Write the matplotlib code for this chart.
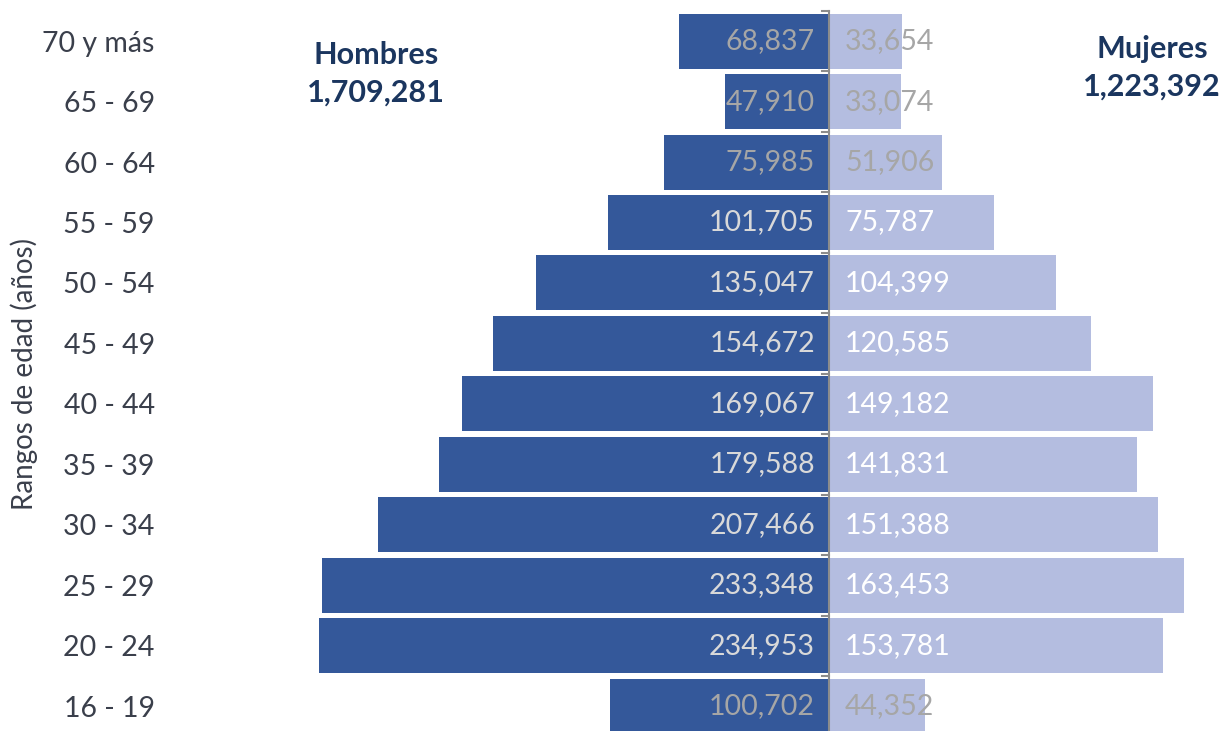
import numpy as np
import matplotlib.pyplot as plt

# age groups, bottom to top
ages = ["16 - 19", "20 - 24", "25 - 29", "30 - 34", "35 - 39", "40 - 44",
        "45 - 49", "50 - 54", "55 - 59", "60 - 64", "65 - 69", "70 y más"]
hombres = [100702, 234953, 233348, 207466, 179588, 169067,
           154672, 135047, 101705, 75985, 47910, 68837]
mujeres = [44352, 153781, 163453, 151388, 141831, 149182,
           120585, 104399, 75787, 51906, 33074, 33654]
total_h = "1,709,281"
total_m = "1,223,392"

dark = "#34589a"
light = "#b4bde0"
navy = "#1b365f"

plt.rcParams['font.family'] = ['Lato', 'DejaVu Sans']

fig = plt.figure(figsize=(12.2, 7.31), dpi=100)
# center axis at ~829 px, ~0.00217 px per person
ax = fig.add_axes([170 / 1220, 0, 1050 / 1220, 1])
pxu = 0.002172
ax.set_xlim(-(829 - 170) / pxu, (1220 - 829) / pxu)
ax.set_ylim(-0.41, 11.68)

y = np.arange(len(ages))
ax.barh(y, [-v for v in hombres], height=0.91, color=dark)
ax.barh(y, mujeres, height=0.91, color=light)

off = 14 / pxu
for i in range(len(ages)):
    small_h = hombres[i] < 101000
    small_m = mujeres[i] < 55000
    ax.text(-off, y[i], f"{hombres[i]:,}", ha="right", va="center",
            fontsize=20.5, color="#a6a6a6" if small_h else "#d9d9d9")
    ax.text(off * 1.15, y[i], f"{mujeres[i]:,}", ha="left", va="center",
            fontsize=20.5, color="#a6a6a6" if small_m else "white")

# center axis line with small ticks between groups
ax.plot([0, 0], [-0.5, len(ages) - 0.5], color="#8c8c8c", lw=1.5)
for b in np.arange(-0.5, len(ages), 1.0):
    ax.plot([-7 / pxu, 0], [b, b], color="#8c8c8c", lw=1.5)

ax.set_yticks(y)
ax.set_yticklabels(ages, fontsize=20.5, color="#3a3f4b")
ax.tick_params(axis="y", length=0, pad=11)
ax.set_xticks([])
for s in ax.spines.values():
    s.set_visible(False)

fig.text(24 / 1220, 1 - 374 / 731, "Rangos de edad (años)", rotation=90,
         ha="center", va="center", fontsize=20, color="#3a3f4b")

ax.text(-(829 - 376) / pxu, 11.68 - 74 / 60.45, "Hombres\n" + total_h,
        ha="center", va="center", fontsize=22, fontweight="bold", color=navy,
        linespacing=1.4)
ax.text((1152 - 829) / pxu, 11.68 - 68 / 60.45, "Mujeres\n" + total_m,
        ha="center", va="center", fontsize=22, fontweight="bold", color=navy,
        linespacing=1.4)

fig.savefig("out.png", dpi=100)
